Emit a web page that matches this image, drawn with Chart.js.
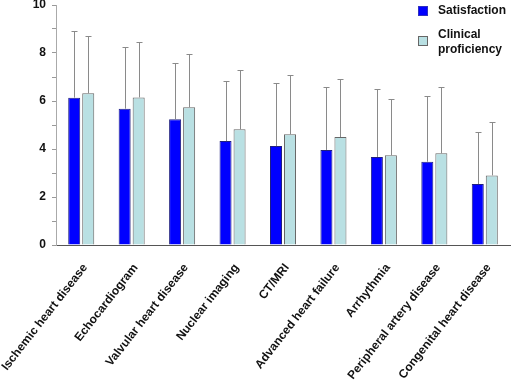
<!DOCTYPE html>
<html>
<head>
<meta charset="utf-8">
<script src="https://cdn.jsdelivr.net/npm/chart.js@4/dist/chart.umd.min.js"></script>
<style>
  html, body { margin: 0; padding: 0; background: #fff; }
  #wrap { position: relative; width: 531px; height: 381px; }
  canvas { position: absolute; left: 0; top: 0; }
  .lg { position: absolute; font-family: "Liberation Sans", Arial, sans-serif; font-weight: bold; font-size: 12px; color: #111; line-height: 15px; }
  .sw { position: absolute; width: 8px; height: 8px; }
</style>
</head>
<body>
<div id="wrap">
  <canvas id="c" width="531" height="381"></canvas>
  <div class="sw" style="left:418px;top:6px;background:#0000ff;border:1px solid #3030c0;"></div>
  <div class="lg" style="left:438px;top:3px;">Satisfaction</div>
  <div class="sw" style="left:418px;top:36px;background:#b9e0e3;border:1px solid #666;"></div>
  <div class="lg" style="left:438px;top:27px;">Clinical<br>proficiency</div>
</div>
<script>
const categories = ["Ischemic heart disease", "Echocardiogram", "Valvular heart disease", "Nuclear imaging", "CT/MRI", "Advanced heart failure", "Arrhythmia", "Peripheral artery disease", "Congenital heart disease"];
const satisfaction = [6.14, 5.68, 5.24, 4.33, 4.12, 3.96, 3.67, 3.47, 2.54];
const satisfactionSD = [2.76, 2.56, 2.33, 2.50, 2.62, 2.61, 2.82, 2.72, 2.16];
const proficiency = [6.32, 6.15, 5.74, 4.82, 4.61, 4.50, 3.74, 3.82, 2.90];
const proficiencySD = [2.38, 2.32, 2.21, 2.49, 2.46, 2.40, 2.33, 2.78, 2.21];
const yTicks = [0, 2, 4, 6, 8, 10];

const errorBars = {
  id: 'errorBars',
  afterDatasetsDraw(chart) {
    const ctx = chart.ctx;
    const y = chart.scales.y;
    chart.data.datasets.forEach((ds, i) => {
      const meta = chart.getDatasetMeta(i);
      meta.data.forEach((el, j) => {
        const top = Math.round(y.getPixelForValue(ds.data[j] + ds.sd[j])) + 0.5;
        ctx.save();
        ctx.strokeStyle = '#8a8a8a';
        ctx.lineWidth = 1;
        ctx.beginPath();
        const x = Math.round(el.x) + 0.5;
        ctx.moveTo(x, el.y);
        ctx.lineTo(x, top);
        ctx.moveTo(x - 3, top);
        ctx.lineTo(x + 3, top);
        ctx.stroke();
        ctx.restore();
      });
    });
  }
};

new Chart(document.getElementById('c'), {
  type: 'bar',
  data: {
    labels: categories,
    datasets: [
      { label: 'Satisfaction', data: satisfaction, sd: satisfactionSD, backgroundColor: '#0000ff', borderColor: '#202080', borderWidth: 1 },
      { label: 'Clinical proficiency', data: proficiency, sd: proficiencySD, backgroundColor: '#b9e0e3', borderColor: '#666666', borderWidth: 1 }
    ]
  },
  options: {
    responsive: false,
    animation: false,
    events: [],
    layout: { padding: { top: 5, right: 21, left: 0, bottom: 0 } },
    plugins: { legend: { display: false }, tooltip: { enabled: false } },
    datasets: { bar: { categoryPercentage: 0.556, barPercentage: 0.857 } },
    scales: {
      x: {
        grid: { display: false, drawTicks: false },
        border: { color: '#555', width: 1 },
        ticks: {
          maxRotation: 52, minRotation: 52, autoSkip: false, padding: 16, labelOffset: 4,
          color: '#111',
          font: { family: '"Liberation Sans", Arial, sans-serif', weight: 'bold', size: 12 }
        },
        afterFit(s) { s.height = 136; s.paddingLeft = 0; s.paddingRight = 0; }
      },
      y: {
        min: 0, max: 10,
        grid: { drawOnChartArea: false, tickLength: 4, color: '#999' },
        border: { color: '#aaa', width: 1 },
        ticks: {
          stepSize: 1, padding: 6, color: '#111',
          font: { family: '"Liberation Sans", Arial, sans-serif', weight: 'bold', size: 12 },
          callback: v => yTicks.includes(v) ? String(v) : ''
        },
        afterFit(s) { s.width = 56; s.paddingTop = 0; s.paddingBottom = 0; }
      }
    }
  },
  plugins: [errorBars]
});
</script>
</body>
</html>
